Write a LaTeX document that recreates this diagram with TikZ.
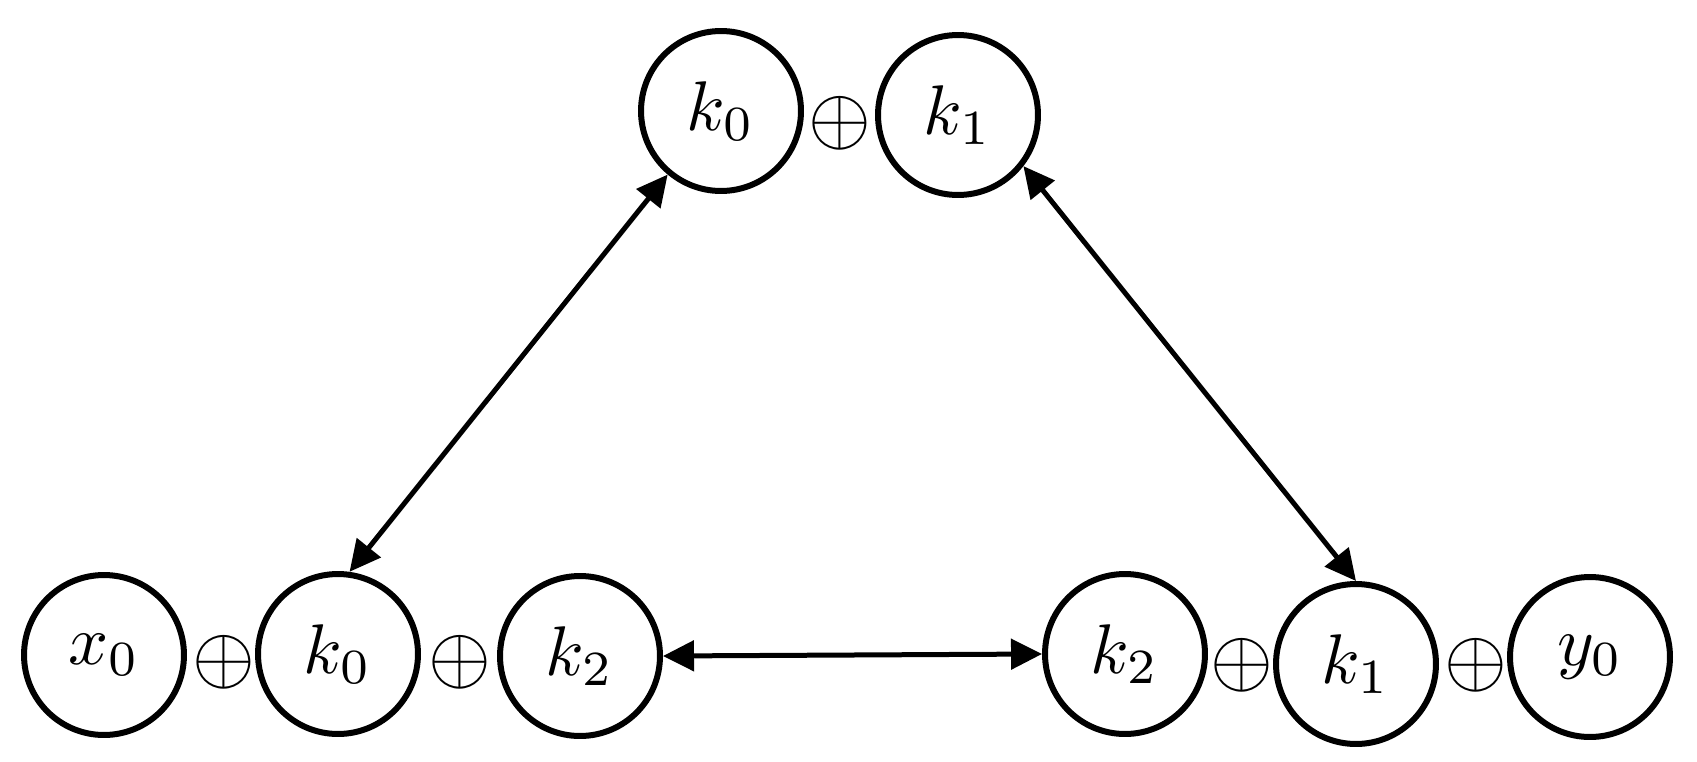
\documentclass[tikz,border=0pt]{standalone}
\usepackage{graphicx}
\usetikzlibrary{arrows.meta}
\newcommand\vlabel[1]{\scalebox{4.0}{$#1$}}
\newcommand\xorsym{\scalebox{4.6}{$\oplus$}}
\begin{document}
\begin{tikzpicture}[x=0.02cm,y=-0.02cm,
  var/.style={circle,draw,line width=0.12cm,minimum size=3.2cm,inner sep=0pt},
  xorop/.style={inner sep=0pt},
  link/.style={line width=0.1cm,{Triangle[length=0.62cm,width=0.6cm]}-{Triangle[length=0.62cm,width=0.6cm]}}]
\useasboundingbox (0,0) rectangle (1697,761);
% top row
\node[var] (tk0) at (721,111) {\vlabel{k_0}};
\node[xorop] (tp) at (839.5,123) {\xorsym};
\node[var] (tk1) at (958,115) {\vlabel{k_1}};
% bottom row
\node[var] (x0) at (104,655) {\vlabel{x_0}};
\node[xorop] (p1) at (224,662) {\xorsym};
\node[var] (bk0) at (338,654) {\vlabel{k_0}};
\node[xorop] (p2) at (459.5,662) {\xorsym};
\node[var] (k2a) at (580,656) {\vlabel{k_2}};
\node[var] (k2b) at (1125,654) {\vlabel{k_2}};
\node[xorop] (p3) at (1242,665) {\xorsym};
\node[var] (bk1) at (1356,664) {\vlabel{k_1}};
\node[xorop] (p4) at (1476,665) {\xorsym};
\node[var] (y0) at (1590,657) {\vlabel{y_0}};
% connectors
\draw[link] (tk0.230) -- (bk0.82);
\draw[link] (tk1.-38) -- (bk1.90);
\draw[link] (k2a.east) -- (k2b.west);
\end{tikzpicture}
\end{document}
